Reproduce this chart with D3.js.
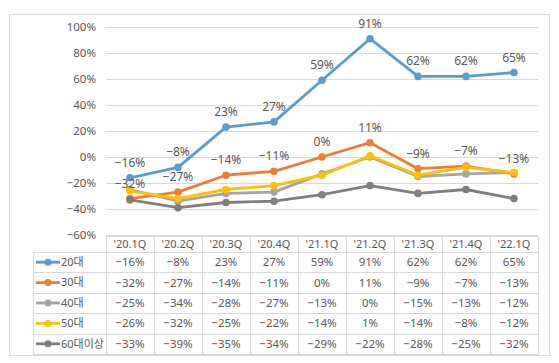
<!DOCTYPE html>
<html>
<head>
<meta charset="utf-8">
<script src="https://cdn.jsdelivr.net/npm/d3@7"></script>
<style>
  body { margin: 0; background: #fff; }
  svg { display: block; }
</style>
</head>
<body>
<div id="chart"></div>
<script>
var width = 559;
var height = 363;

var quarters = ["'20.1Q", "'20.2Q", "'20.3Q", "'20.4Q", "'21.1Q", "'21.2Q", "'21.3Q", "'21.4Q", "'22.1Q"];
var seriesNames = ["20대", "30대", "40대", "50대", "60대이상"];
var colors = ["#5B9BD5", "#ED7D31", "#A5A5A5", "#FFC000", "#7F7F7F"];
var v20 = [-16, -8, 23, 27, 59, 91, 62, 62, 65];
var v30 = [-32, -27, -14, -11, 0, 11, -9, -7, -13];
var v40 = [-25, -34, -28, -27, -13, 0, -15, -13, -12];
var v50 = [-26, -32, -25, -22, -14, 1, -14, -8, -12];
var v60 = [-33, -39, -35, -34, -29, -22, -28, -25, -32];
var yTicks = [-60, -40, -20, 0, 20, 40, 60, 80, 100];
// only these series get point labels on the chart
var labelled = [true, true, false, false, false];

var allValues = [v20, v30, v40, v50, v60];

var textColor = "#595959";
var gridColor = "#d9d9d9";
var font = "'Noto Sans', 'Noto Sans CJK KR', sans-serif";

var plotLeft = 106, plotRight = 538;
var plotTop = 27, plotBottom = 235;

var x = d3.scaleBand().domain(quarters).range([plotLeft, plotRight]);
var y = d3.scaleLinear().domain([-60, 100]).range([plotBottom, plotTop]);

var svg = d3.select("#chart").append("svg")
    .attr("width", width)
    .attr("height", height)
    .style("font-family", font);

// chart frame
svg.append("rect")
    .attr("x", 9.5).attr("y", 14.5)
    .attr("width", 540).attr("height", 341)
    .attr("fill", "#fff")
    .attr("stroke", gridColor);

// gridlines + y labels
var yAxis = svg.append("g");
yAxis.selectAll("line")
  .data(yTicks)
  .join("line")
    .attr("x1", plotLeft).attr("x2", plotRight)
    .attr("y1", d => Math.round(y(d)) + 0.5)
    .attr("y2", d => Math.round(y(d)) + 0.5)
    .attr("stroke", gridColor);
yAxis.selectAll("text")
  .data(yTicks)
  .join("text")
    .attr("x", 96)
    .attr("y", d => y(d))
    .attr("dy", "0.35em")
    .attr("text-anchor", "end")
    .attr("fill", textColor)
    .style("font-size", "11.5px")
    .text(d => (d < 0 ? "\u2212" + (-d) : d) + "%");

function fmt(v){
  return (v < 0 ? "\u2212" + (-v) : v) + "%";
}

var line = d3.line()
    .x((d, i) => x(quarters[i]) + x.bandwidth() / 2)
    .y(d => y(d));

var lines = svg.append("g");
allValues.forEach((vals, s) => {
  var g = lines.append("g");
  g.append("path")
      .attr("d", line(vals))
      .attr("fill", "none")
      .attr("stroke", colors[s])
      .attr("stroke-width", 2.8)
      .attr("stroke-linejoin", "round");
  g.selectAll("circle")
    .data(vals)
    .join("circle")
      .attr("cx", (d, i) => x(quarters[i]) + x.bandwidth() / 2)
      .attr("cy", d => y(d))
      .attr("r", 3.8)
      .attr("fill", colors[s]);
});

// point labels
allValues.forEach((vals, s) => {
  if (!labelled[s]) return;
  svg.append("g").selectAll("text")
    .data(vals)
    .join("text")
      .attr("x", (d, i) => x(quarters[i]) + x.bandwidth() / 2)
      .attr("y", d => y(d) - 11)
      .attr("text-anchor", "middle")
      .attr("fill", textColor)
      .style("font-size", "12px")
      .text(fmt);
});

// data table
var tableTop = 236, headH = 16, rowH = 20.4;
var legendLeft = 33;
var table = svg.append("g");
var rowsBottom = tableTop + headH + rowH * seriesNames.length;

// horizontal lines
table.append("line")
    .attr("x1", plotLeft).attr("x2", plotRight)
    .attr("y1", tableTop + 0.5).attr("y2", tableTop + 0.5)
    .attr("stroke", gridColor);
d3.range(seriesNames.length + 1).forEach(i => {
  var yy = Math.round(tableTop + headH + rowH * i) + 0.5;
  table.append("line")
      .attr("x1", legendLeft).attr("x2", plotRight)
      .attr("y1", yy).attr("y2", yy)
      .attr("stroke", gridColor);
});
// vertical lines
d3.range(quarters.length + 1).forEach(i => {
  var xx = plotLeft + x.bandwidth() * i + 0.5;
  table.append("line")
      .attr("x1", xx).attr("x2", xx)
      .attr("y1", tableTop).attr("y2", rowsBottom)
      .attr("stroke", gridColor);
});
table.append("line")
    .attr("x1", legendLeft + 0.5).attr("x2", legendLeft + 0.5)
    .attr("y1", tableTop + headH).attr("y2", rowsBottom)
    .attr("stroke", gridColor);

// header
table.selectAll("text.head")
  .data(quarters)
  .join("text")
    .attr("class", "head")
    .attr("x", d => x(d) + x.bandwidth() / 2)
    .attr("y", tableTop + headH / 2)
    .attr("dy", "0.35em")
    .attr("text-anchor", "middle")
    .attr("fill", textColor)
    .style("font-size", "11px")
    .text(d => d);

// rows
seriesNames.forEach((name, s) => {
  var cy = tableTop + headH + rowH * s + rowH / 2;
  table.append("line")
      .attr("x1", 36).attr("x2", 60)
      .attr("y1", cy).attr("y2", cy)
      .attr("stroke", colors[s])
      .attr("stroke-width", 2.8);
  table.append("circle")
      .attr("cx", 48).attr("cy", cy).attr("r", 3.5)
      .attr("fill", colors[s]);
  table.append("text")
      .attr("x", 61).attr("y", cy)
      .attr("dy", "0.35em")
      .attr("fill", textColor)
      .style("font-size", "11px")
      .text(name);
  table.append("g").selectAll("text")
    .data(allValues[s])
    .join("text")
      .attr("x", (d, i) => x(quarters[i]) + x.bandwidth() / 2)
      .attr("y", cy)
      .attr("dy", "0.35em")
      .attr("text-anchor", "middle")
      .attr("fill", textColor)
      .style("font-size", "11.5px")
      .text(fmt);
});
</script>
</body>
</html>
